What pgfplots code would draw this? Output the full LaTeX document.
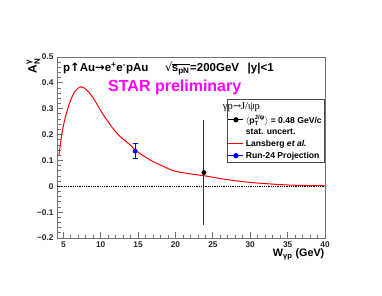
\documentclass[border=0pt]{standalone}
\usepackage{pgfplots}
\pgfplotsset{compat=1.18}
\usepackage{fontspec}
\usepackage{amsmath}
\setmainfont{Liberation Sans}
\newfontfamily\seriffont{Liberation Serif}
\newfontfamily\djv{DejaVu Sans}
\newfontfamily\djvserif{DejaVu Serif}
\definecolor{rootmag}{RGB}{255,0,255}
\definecolor{rootred}{RGB}{255,0,0}
\definecolor{rootblue}{RGB}{0,0,255}
\begin{document}
\begin{tikzpicture}[x=1pt,y=1pt]
\path[use as bounding box] (0,0) rectangle (382,295);
\begin{axis}[
  at={(57pt,57pt)}, anchor=south west,
  scale only axis, width=268pt, height=181pt,
  xmin=4.15, xmax=40, ymin=-0.2, ymax=0.5,
  xtick={5,10,15,20,25,30,35,40},
  xticklabels={5,10,15,20,25,30,35,40},
  ytick={-0.2,-0.1,0,0.1,0.2,0.3,0.4,0.5},
  yticklabels={−0.2,−0.1,0,0.1,0.2,0.3,0.4,0.5},
  minor x tick num=4, minor y tick num=4,
  tick pos=left, tick align=inside,
  major tick length=6pt, minor tick length=3.5pt,
  axis line style={black!55, line width=0.8pt},
  every tick/.style={black!55, line width=0.8pt},
  ticklabel style={font=\fontsize{8.3}{9}\selectfont\bfseries, text=black!85},
  xticklabel style={yshift=-0.5pt},
  legend style={at={(rel axis cs:1,0.768)}, anchor=north east, draw=black!70,
    line width=0.6pt, fill=white, font=\fontsize{8.6}{10}\selectfont\bfseries,
    inner sep=1pt, row sep=0pt, cells={anchor=west}},
  legend image code/.code={\draw[mark repeat=2,mark phase=2,#1] plot coordinates {(0pt,0pt) (7.5pt,0pt) (15pt,0pt)};},
]
\addlegendimage{empty legend}
\addlegendentry{\hspace*{-23pt}\fontsize{10.5}{11}\selectfont\seriffont\mdseries γp{\djvserif\fontsize{10}{10}\selectfont →}J/ψp}
\addlegendimage{black, line width=0.8pt, mark=*, mark size=2.2pt}
\addlegendentry{$\langle\text{p}_{\text{T}}^{\text{J/ψ}}\rangle$ = 0.48 GeV/c}
\addlegendimage{empty legend}
\addlegendentry{stat. uncert.}
\addlegendimage{rootred, line width=1pt}
\addlegendentry{Lansberg \textit{et al.}}
\addlegendimage{rootblue, line width=0.8pt, mark=*, mark size=2.2pt}
\addlegendentry{Run-24 Projection}

\addplot[black, densely dotted, line width=0.8pt, forget plot] coordinates {(4.15,0) (40,0)};
\addplot[rootred, line width=1pt, smooth, forget plot] coordinates {
(4.42,0.121) (4.78,0.198) (5.23,0.263) (5.9,0.327) (6.57,0.368) (7.37,0.385)
(8.14,0.372) (9.02,0.340) (10.36,0.276) (12.16,0.205) (13.94,0.160) (14.6,0.140)
(16.6,0.102) (18.9,0.070) (20,0.058) (22,0.048) (24,0.040) (26.4,0.028)
(30,0.015) (35,0.005) (40,0.002)};
\addplot[rootblue, only marks, mark=*, mark size=2.2pt, forget plot,
  error bars/.cd, y dir=both, y explicit,
  error bar style={rootblue, line width=0.8pt},
  error mark options={rootblue, line width=0.8pt, mark size=2.5pt, rotate=90}]
  coordinates {(14.6,0.136) +- (0,0.03)};
\addplot[black, only marks, mark=*, mark size=2.2pt, forget plot,
  error bars/.cd, y dir=both, y explicit, error mark=none,
  error bar style={black!80, line width=0.8pt}]
  coordinates {(23.8,0.053) +- (0,0.203)};
\end{axis}
\node[anchor=base west, font=\fontsize{11.5}{14}\selectfont\bfseries, inner sep=0] at (63,223) {p{\djv\bfseries ↑}Au{\djv\bfseries →}e\textsuperscript{+}e\textsuperscript{-}pAu};
\node[anchor=base west, font=\fontsize{11.5}{14}\selectfont\bfseries, inner sep=0] at (165,223) {{\djv\mdseries √}\kern-0.6pt$\overline{\text{s}_{\text{pN}}}$};
\node[anchor=base west, font=\fontsize{11.5}{14}\selectfont\bfseries, inner sep=0] at (190,223) {=200GeV};
\node[anchor=base west, font=\fontsize{11.5}{14}\selectfont\bfseries, inner sep=0] at (247.5,223) {|y|<1};
\node[anchor=base west, text=rootmag, font=\fontsize{16}{18}\selectfont\bfseries, inner sep=0] at (108,203.3) {STAR preliminary};
\node[rotate=90, anchor=base east, font=\fontsize{12}{14}\selectfont\bfseries, inner sep=0] at (36.7,237) {$\text{A}_{\text{N}}^{\text{γ}}$};
\node[anchor=base east, font=\fontsize{10.8}{13}\selectfont\bfseries, inner sep=0] at (324.5,38.5) {W$_{\text{γp}}$ (GeV)};
\end{tikzpicture}
\end{document}
